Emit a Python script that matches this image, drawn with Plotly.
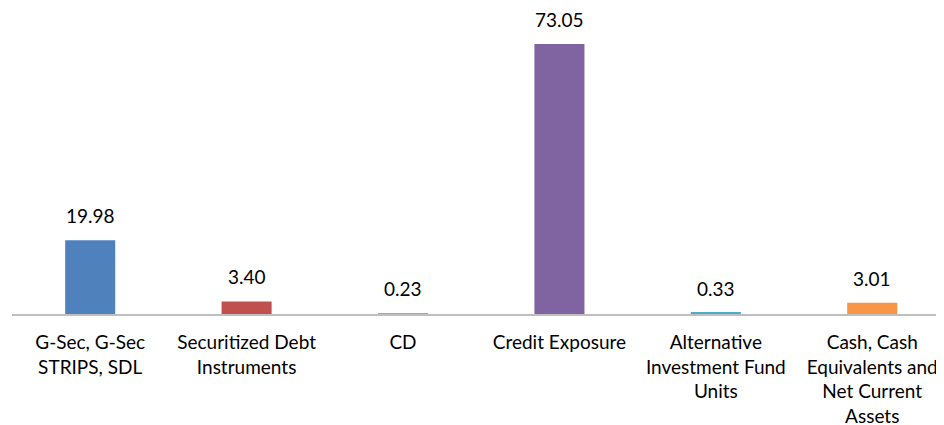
import plotly.graph_objects as go

categories = [
    "G-Sec, G-Sec<br>STRIPS, SDL",
    "Securitized Debt<br>Instruments",
    "CD",
    "Credit Exposure",
    "Alternative<br>Investment Fund<br>Units",
    "Cash, Cash<br>Equivalents and<br>Net Current<br>Assets",
]
values = [19.98, 3.40, 0.23, 73.05, 0.33, 3.01]
value_labels = ["19.98", "3.40", "0.23", "73.05", "0.33", "3.01"]
colors = ["#4F81BD", "#C0504D", "#9BBB59", "#8064A2", "#4BACC6", "#F79646"]

FONT = "Lato, Carlito, Calibri, sans-serif"

fig = go.Figure()
fig.add_trace(go.Bar(
    x=categories,
    y=values,
    marker=dict(color=colors, line=dict(width=0)),
    width=0.32,
    hoverinfo="skip",
))

for c, v, t in zip(categories, values, value_labels):
    fig.add_annotation(
        x=c, y=v, text=t, showarrow=False,
        yanchor="bottom", yshift=11,
        font=dict(family=FONT, size=19, color="#000000"),
    )

fig.update_layout(
    width=944, height=425,
    margin=dict(l=4, r=0, t=2, b=119, autoexpand=False),
    plot_bgcolor="white", paper_bgcolor="white",
    showlegend=False,
    font=dict(family=FONT, size=19, color="#000000"),
)
fig.update_xaxes(
    range=[-0.5, 5.51],
    showline=True, linecolor="#BFBFBF", linewidth=2,
    ticks="", showgrid=False, zeroline=False,
    tickfont=dict(family=FONT, size=19, color="#000000"),
    tickangle=0, ticklabelstandoff=10, automargin=False,
)
fig.update_yaxes(
    range=[0, 82.25], visible=False, showgrid=False, zeroline=False,
)

fig.write_html("out.html")
